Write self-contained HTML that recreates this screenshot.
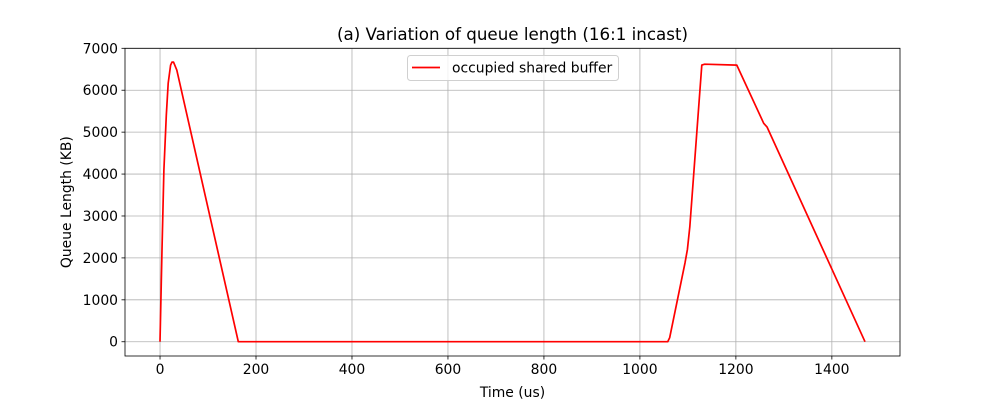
<!DOCTYPE html>
<html><head><meta charset="utf-8"><style>
body{margin:0;background:#fff;}
text{font-family:"DejaVu Sans","Liberation Sans",sans-serif;fill:#000;}
</style></head><body>
<svg id="chart" width="1000" height="400" xmlns="http://www.w3.org/2000/svg">
<rect x="0" y="0" width="1000" height="400" fill="#fff"/>
</svg>
<script>
const xTicks = [0, 200, 400, 600, 800, 1000, 1200, 1400];
const yTicks = [0, 1000, 2000, 3000, 4000, 5000, 6000, 7000];
const timeUs = [0, 4, 8, 13, 17, 22, 25, 28, 35, 163, 1058, 1062, 1094, 1099, 1104, 1129, 1135, 1202, 1258, 1265, 1469];
const queueKB = [0, 2200, 4100, 5400, 6170, 6600, 6670, 6670, 6480, 0, 0, 100, 1880, 2200, 2740, 6600, 6620, 6600, 5210, 5120, 0];

const L=125, R=900, T=48.3, B=356;
const xMin=-73, xMax=1542, yMin=-340, yMax=7000;
const sx=v=>L+(v-xMin)/(xMax-xMin)*(R-L);
const sy=v=>B-(v-yMin)/(yMax-yMin)*(B-T);
const svg=document.getElementById('chart');
const NS='http://www.w3.org/2000/svg';
function mk(tag,attrs,parent){const e=document.createElementNS(NS,tag);for(const k in attrs)e.setAttribute(k,attrs[k]);(parent||svg).appendChild(e);return e;}

const grid=mk('g',{});


xTicks.forEach(t=>{mk('line',{x1:sx(t),x2:sx(t),y1:T,y2:B,stroke:'#b0b0b0','stroke-width':0.8},grid);});
yTicks.forEach(t=>{mk('line',{x1:L,x2:R,y1:sy(t),y2:sy(t),stroke:'#b0b0b0','stroke-width':0.8},grid);});

const xa=mk('g',{});


xTicks.forEach(t=>{mk('line',{x1:sx(t),x2:sx(t),y1:B,y2:B+3.5,stroke:'#000','stroke-width':0.8},xa);
 const tx=mk('text',{x:sx(t),y:B+18,'font-size':13.9,'text-anchor':'middle'},xa);tx.textContent=t;});
const ya=mk('g',{});


yTicks.forEach(t=>{mk('line',{x1:L-3.5,x2:L,y1:sy(t),y2:sy(t),stroke:'#000','stroke-width':0.8},ya);
 const tx=mk('text',{x:L-7,y:sy(t)+5,'font-size':13.9,'text-anchor':'end'},ya);tx.textContent=t;});

const pts=timeUs.map((t,i)=>sx(t).toFixed(1)+','+sy(queueKB[i]).toFixed(1)).join(' ');
const line=mk('polyline',{points:pts,fill:'none',stroke:'#ff0000','stroke-width':1.7,'stroke-linejoin':'round'});



const frame=mk('rect',{x:L,y:T,width:R-L,height:B-T,fill:'none',stroke:'#000','stroke-width':0.8});



const title=mk('text',{x:(L+R)/2,y:40,'font-size':16.7,'text-anchor':'middle'});


title.textContent='(a) Variation of queue length (16:1 incast)';
const xt=mk('text',{x:(L+R)/2,y:397,'font-size':13.9,'text-anchor':'middle'});


xt.textContent='Time (us)';
const yt=mk('text',{x:0,y:0,'font-size':13.9,'text-anchor':'middle',transform:`translate(71,${(T+B)/2}) rotate(-90)`});


yt.textContent='Queue Length (KB)';

const lg=mk('g',{});


mk('rect',{x:407.5,y:55.5,width:211,height:25,rx:3,fill:'#fff','fill-opacity':0.8,stroke:'#d0d0d0','stroke-width':1},lg);
mk('line',{x1:412,x2:440,y1:67.5,y2:67.5,stroke:'#ff0000','stroke-width':1.8},lg);
const lt=mk('text',{x:452,y:72.5,'font-size':13.9},lg);


lt.textContent='occupied shared buffer';
</script>
</body></html>
